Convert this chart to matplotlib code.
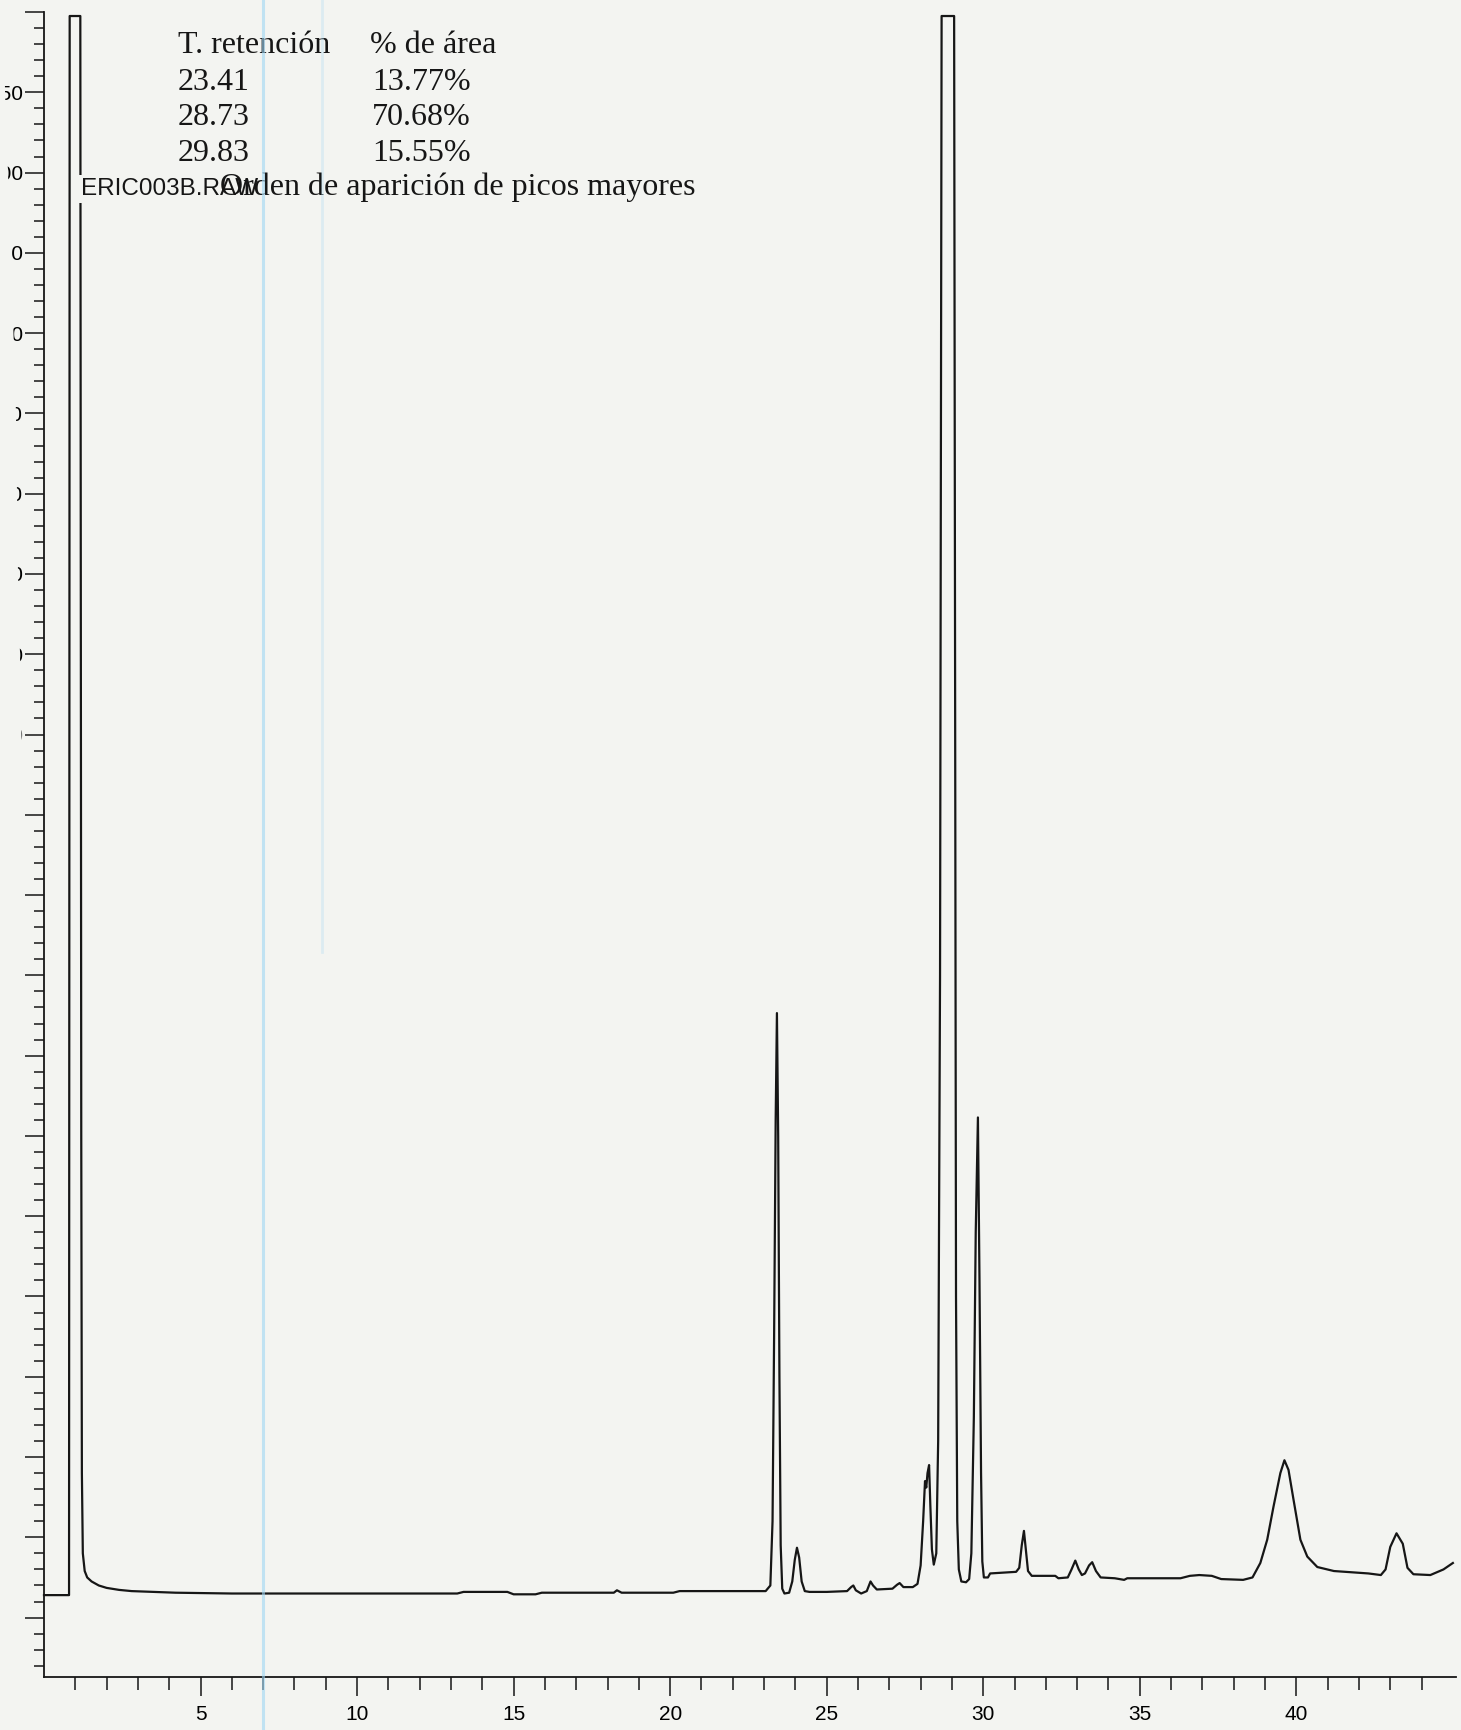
import matplotlib
matplotlib.use("Agg")
import matplotlib.pyplot as plt
import matplotlib.transforms as mtransforms
from matplotlib.patches import Polygon
from matplotlib.ticker import FixedLocator, MultipleLocator

# ---------------------------------------------------------------------------
# Chromatogram trace: retention time (min) vs detector signal (arbitrary units).
# Values of 19.95 are the detector full-scale (saturated, flat-topped peaks).
# ---------------------------------------------------------------------------
time_min = [
    0.00, 0.80, 0.82, 1.16, 1.19, 1.21, 1.24, 1.30, 1.38, 1.52, 1.75, 2.00,
    2.40, 2.80, 3.50, 4.20, 6.00, 9.00, 13.20, 13.40, 14.80, 15.00, 15.70,
    15.90, 18.20, 18.30, 18.45, 20.10, 20.30, 22.90,
    23.05, 23.20, 23.27, 23.32, 23.37, 23.41, 23.45, 23.49, 23.53, 23.58, 23.65,
    23.80, 23.90, 23.98, 24.05, 24.12, 24.20, 24.30, 24.45,
    25.00, 25.65, 25.78, 25.85, 25.93, 26.10, 26.28, 26.40, 26.48, 26.60,
    27.10, 27.25, 27.33, 27.45, 27.75,
    27.90, 28.00, 28.08, 28.14, 28.18, 28.22, 28.27, 28.31, 28.36, 28.42, 28.50,
    28.56, 28.62, 28.67, 28.73, 29.07, 29.10, 29.13, 29.17, 29.22, 29.30,
    29.45, 29.55, 29.62, 29.70, 29.76, 29.83, 29.88, 29.93, 29.97, 30.02,
    30.15, 30.22, 31.05, 31.15, 31.23, 31.30, 31.36, 31.43, 31.55,
    32.30, 32.40, 32.70, 32.82, 32.94, 33.05, 33.15, 33.25, 33.38, 33.48,
    33.60, 33.75, 34.20, 34.50, 34.60, 35.50, 36.30, 36.60, 36.90, 37.30,
    37.60, 38.30, 38.60, 38.85, 39.07, 39.27, 39.49, 39.62, 39.75, 39.91,
    40.13, 40.35, 40.67, 41.20, 42.30, 42.70, 42.85, 43.00, 43.20, 43.40,
    43.55, 43.74, 44.28, 44.70, 45.00,
]
signal = [
    0.28, 0.28, 19.95, 19.95, 6.00, 1.80, 0.80, 0.58, 0.50, 0.45, 0.40, 0.37,
    0.345, 0.33, 0.32, 0.31, 0.30, 0.30, 0.30, 0.32, 0.32, 0.29, 0.29,
    0.31, 0.31, 0.34, 0.31, 0.31, 0.33, 0.33,
    0.33, 0.40, 1.20, 3.50, 6.20, 7.53, 6.00, 3.00, 0.90, 0.36, 0.30,
    0.31, 0.45, 0.72, 0.87, 0.75, 0.45, 0.33, 0.32,
    0.32, 0.33, 0.38, 0.40, 0.34, 0.30, 0.33, 0.45, 0.40, 0.35,
    0.36, 0.41, 0.43, 0.38, 0.38,
    0.42, 0.65, 1.20, 1.70, 1.62, 1.80, 1.90, 1.40, 0.85, 0.66, 0.80,
    2.20, 8.00, 19.95, 19.95, 19.95, 12.00, 4.00, 1.20, 0.60, 0.45,
    0.44, 0.48, 0.80, 2.50, 4.80, 6.23, 4.20, 1.80, 0.70, 0.50,
    0.50, 0.55, 0.57, 0.62, 0.90, 1.08, 0.85, 0.58, 0.52,
    0.52, 0.49, 0.50, 0.60, 0.71, 0.60, 0.53, 0.55, 0.65, 0.69,
    0.58, 0.50, 0.49, 0.47, 0.49, 0.49, 0.49, 0.52, 0.53, 0.52,
    0.48, 0.47, 0.50, 0.68, 0.97, 1.38, 1.80, 1.96, 1.84, 1.47,
    0.97, 0.76, 0.63, 0.58, 0.55, 0.53, 0.60, 0.88, 1.05, 0.92,
    0.62, 0.54, 0.53, 0.60, 0.68,
]

# Integration report for the major peaks
report_rt = ["23.41", "28.73", "29.83"]
report_area = ["13.77%", "70.68%", "15.55%"]
report_header = ["T. retención", "% de área"]
report_title = "Orden de aparición de picos mayores"
file_name = "ERIC003B.RAW"

# Axis ticks (the lower scale labels were lost with the torn page margin)
x_major = [5, 10, 15, 20, 25, 30, 35, 40]
x_major_labels = ["5", "10", "15", "20", "25", "30", "35", "40"]
x_minor = list(range(1, 45))
y_major = list(range(0, 21))
y_major_labels = ["", "", "", "", "", "", "", "", "", "", "",
                  "550", "600", "650", "700", "750", "800",
                  "850", "900", "950", ""]

PAPER = "#f3f4f1"
INK = "#161616"
W, H = 1461, 1730

fig = plt.figure(figsize=(W / 100, H / 100), dpi=100, facecolor=PAPER)
ax = fig.add_axes([44 / W, 53 / H, (1456 - 44) / W, (H - 12 - 53) / H])
ax.set_facecolor("none")
ax.set_xlim(0, 45.1)
ax.set_ylim(-0.74, 20.0)

ax.plot(time_min, signal, color=INK, lw=1.6, zorder=2, clip_on=False,
        solid_joinstyle="round")

for side in ("top", "right"):
    ax.spines[side].set_visible(False)
for side in ("left", "bottom"):
    ax.spines[side].set_color(INK)
    ax.spines[side].set_linewidth(1.3)

tick_font = dict(family=["Liberation Sans Narrow", "Liberation Sans"], size=15)

ax.set_xticks(x_major)
ax.set_xticklabels(x_major_labels, **tick_font)
ax.xaxis.set_minor_locator(FixedLocator(x_minor))
ax.tick_params(axis="x", which="major", direction="out", length=14, width=1.1,
               color=INK, pad=6)
ax.tick_params(axis="x", which="minor", direction="out", length=9.5, width=1.1,
               color=INK)

ax.set_yticks(y_major)
ax.set_yticklabels(y_major_labels, **tick_font)
ax.yaxis.set_minor_locator(MultipleLocator(0.2))
ax.tick_params(axis="y", which="major", direction="out", length=14, width=1.1,
               color=INK, pad=1)
ax.tick_params(axis="y", which="minor", direction="out", length=7, width=1.1,
               color=INK)

# Torn page edge along the left margin
edge = mtransforms.blended_transform_factory(fig.dpi_scale_trans, ax.transData)
edge_pts = [(0, 20.6), (0.04, 20.6), (0.05, 19.0), (0.11, 17.0), (0.16, 15.0),
            (0.18, 13.0), (0.20, 12.0), (0.215, 11.0), (0.235, 10.0),
            (0.235, -1.0), (0, -1.0)]
fig.add_artist(Polygon(edge_pts, closed=True, transform=edge, facecolor=PAPER,
                       edgecolor="none", zorder=5, clip_on=False))

# Peak report block
px = fig.dpi_scale_trans
serif = dict(family=["Liberation Serif"], size=23, color=INK, va="baseline",
             ha="left", transform=px)
fig.text(1.78, (H - 53) / 100, report_header[0], **serif)
fig.text(3.70, (H - 53) / 100, report_header[1], **serif)
for i, (rt, area) in enumerate(zip(report_rt, report_area)):
    yb = (H - 90 - 35.5 * i) / 100
    fig.text(1.78, yb, rt, **serif)
    fig.text(3.72, yb, area, **serif)

fig.text(0.81, (H - 195) / 100, file_name, family=["Liberation Sans"],
         size=17.5, color=INK, va="baseline", ha="left", transform=px,
         zorder=3, bbox=dict(facecolor=PAPER, edgecolor="none", pad=2.5))
fig.text(2.20, (H - 195) / 100, report_title, zorder=4, **serif)

# Light scanner streaks
fig.add_artist(plt.Line2D([263 / W, 263 / W], [0, 1], transform=fig.transFigure,
                          color="#9fd6f3", lw=2.2, alpha=0.6, zorder=6))
fig.add_artist(plt.Line2D([322 / W, 322 / W], [0.45, 1], transform=fig.transFigure,
                          color="#a9d9f2", lw=2.0, alpha=0.3, zorder=6))

fig.savefig("out.png", dpi=100, facecolor=PAPER)
